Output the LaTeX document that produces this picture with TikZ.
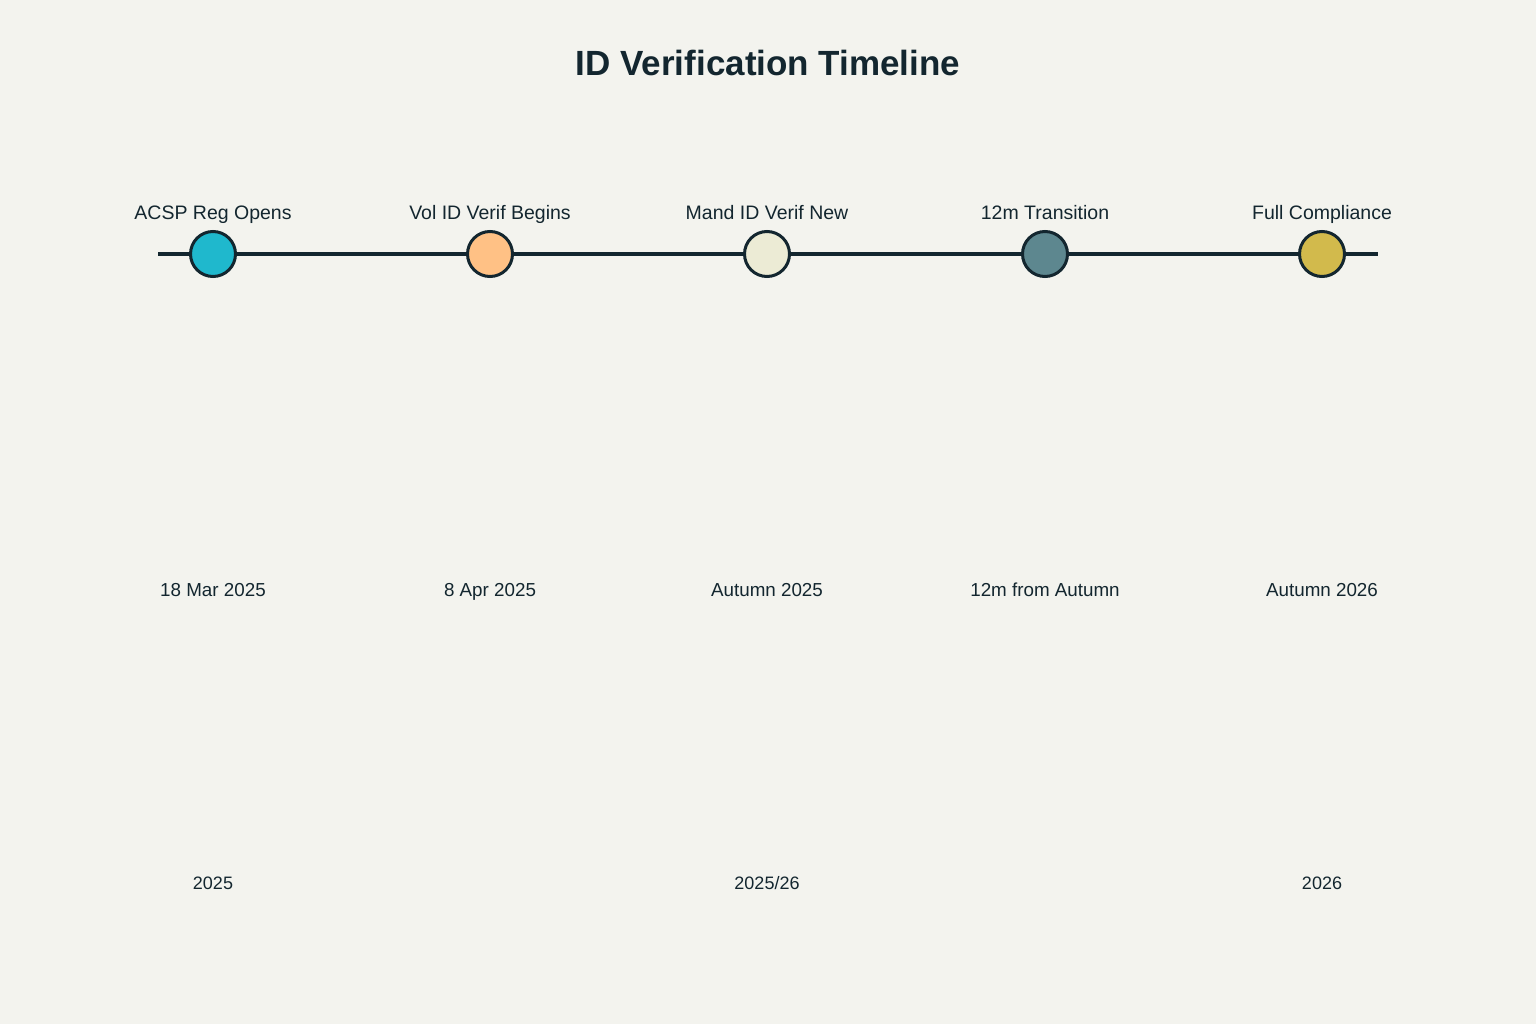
\documentclass[tikz,border=0pt]{standalone}
\usepackage{fontspec}
\setmainfont{Liberation Sans}
\definecolor{bg}{HTML}{F3F3EE}
\definecolor{ink}{HTML}{13262F}
\definecolor{cA}{HTML}{1FB8CD}
\definecolor{cB}{HTML}{FFC185}
\definecolor{cC}{HTML}{ECEBD5}
\definecolor{cD}{HTML}{5D878F}
\definecolor{cE}{HTML}{D2BA4C}
\begin{document}
\begin{tikzpicture}[x=1pt,y=-1pt,
  milestone/.style={circle,draw=ink,line width=3pt,minimum size=45pt,inner sep=0pt},
  evlabel/.style={text=ink,font=\fontsize{19.5}{22}\selectfont,anchor=base,inner sep=0pt},
  datelabel/.style={text=ink,font=\fontsize{18.8}{22}\selectfont,anchor=base,inner sep=0pt},
  yearlabel/.style={text=ink,font=\fontsize{18}{20}\selectfont,anchor=base,inner sep=0pt},
  axis/.style={draw=ink,line width=4pt}]
\fill[bg] (0,0) rectangle (1536,1024);
\useasboundingbox (0,0) rectangle (1536,1024);
\node[text=ink,font=\bfseries\fontsize{35}{40}\selectfont,inner sep=0pt] (title) at (768,63) {ID Verification Timeline};
\coordinate (lstart) at (158,254);
\coordinate (lend) at (1378,254);
\draw[axis] (lstart) -- (lend);
\node[milestone,fill=cA] (m1) at (213,254) {};
\node[milestone,fill=cB] (m2) at (490,254) {};
\node[milestone,fill=cC] (m3) at (767,254) {};
\node[milestone,fill=cD] (m4) at (1045,254) {};
\node[milestone,fill=cE] (m5) at (1322,254) {};
\node[evlabel] (e1) at (213,220) {ACSP Reg Opens};
\node[evlabel] (e2) at (490,220) {Vol ID Verif Begins};
\node[evlabel] (e3) at (767,220) {Mand ID Verif New};
\node[evlabel] (e4) at (1045,220) {12m Transition};
\node[evlabel] (e5) at (1322,220) {Full Compliance};
\node[datelabel] (d1) at (213,596) {18 Mar 2025};
\node[datelabel] (d2) at (490,596) {8 Apr 2025};
\node[datelabel] (d3) at (767,596) {Autumn 2025};
\node[datelabel] (d4) at (1045,596) {12m from Autumn};
\node[datelabel] (d5) at (1322,596) {Autumn 2026};
\node[yearlabel] (y1) at (213,889) {2025};
\node[yearlabel] (y3) at (767,889) {2025/26};
\node[yearlabel] (y5) at (1322,889) {2026};
\end{tikzpicture}
\end{document}
